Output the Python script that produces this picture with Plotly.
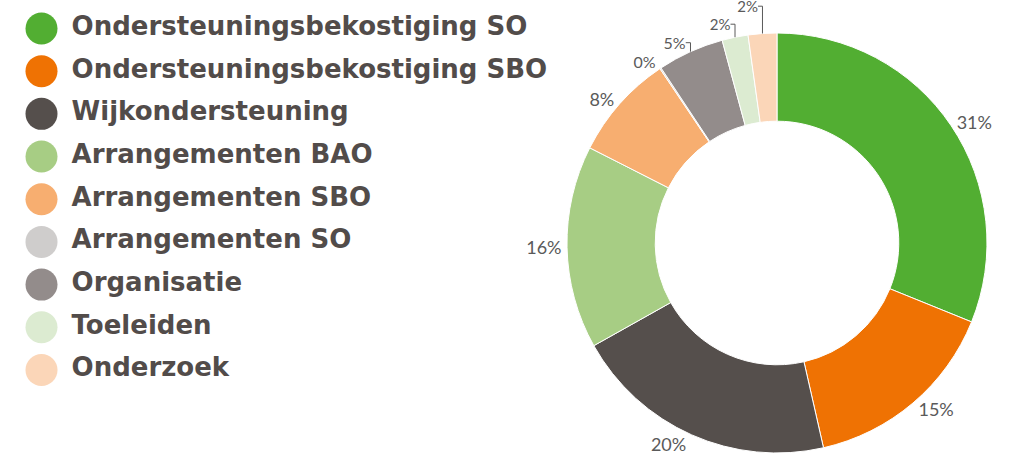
import plotly.graph_objects as go

categories = [
    "Ondersteuningsbekostiging SO",
    "Ondersteuningsbekostiging SBO",
    "Wijkondersteuning",
    "Arrangementen BAO",
    "Arrangementen SBO",
    "Arrangementen SO",
    "Organisatie",
    "Toeleiden",
    "Onderzoek",
]
values = [31.1, 15.3, 20.4, 15.6, 8.1, 0.1, 5.1, 2.0, 2.2]
colors = ["#52ae32", "#ef7203", "#554f4c", "#a7cd84", "#f7ae70",
          "#cfcdcc", "#938c8b", "#dcebd1", "#fbd6b8"]
label_sizes = [18, 18, 18, 18, 18, 16, 16, 15, 15]

fig = go.Figure()

fig.add_trace(go.Pie(
    labels=categories,
    values=values,
    marker=dict(colors=colors, line=dict(color="white", width=1)),
    hole=0.58,
    sort=False,
    direction="clockwise",
    rotation=0,
    textposition="outside",
    texttemplate="%{percent:.0%}",
    textfont=dict(family="Lato", size=label_sizes, color="#5a5a5a"),
    showlegend=False,
    automargin=False,
    domain=dict(x=[0.5575, 0.9705], y=[0.0403, 0.9301]),
    hoverinfo="label+percent",
))

fig.add_trace(go.Scatter(
    x=[0] * len(categories),
    y=categories,
    mode="markers+text",
    marker=dict(size=32, color=colors),
    text=[" " + c for c in categories],
    textposition="middle right",
    textfont=dict(family="DejaVu Sans", size=26, color="#524c4a", weight="bold"),
    showlegend=False,
    hoverinfo="skip",
    cliponaxis=False,
))

fig.update_layout(
    width=1017, height=472,
    margin=dict(l=0, r=0, t=0, b=0, autoexpand=False),
    paper_bgcolor="white",
    plot_bgcolor="white",
    xaxis=dict(domain=[0, 0.55], range=[-0.0742, 0.9258], visible=False, fixedrange=True),
    yaxis=dict(domain=[0, 1], type="category", categoryorder="array",
               categoryarray=categories, range=[10.39, -0.667], visible=False, fixedrange=True),
)

fig.write_html("out.html")
